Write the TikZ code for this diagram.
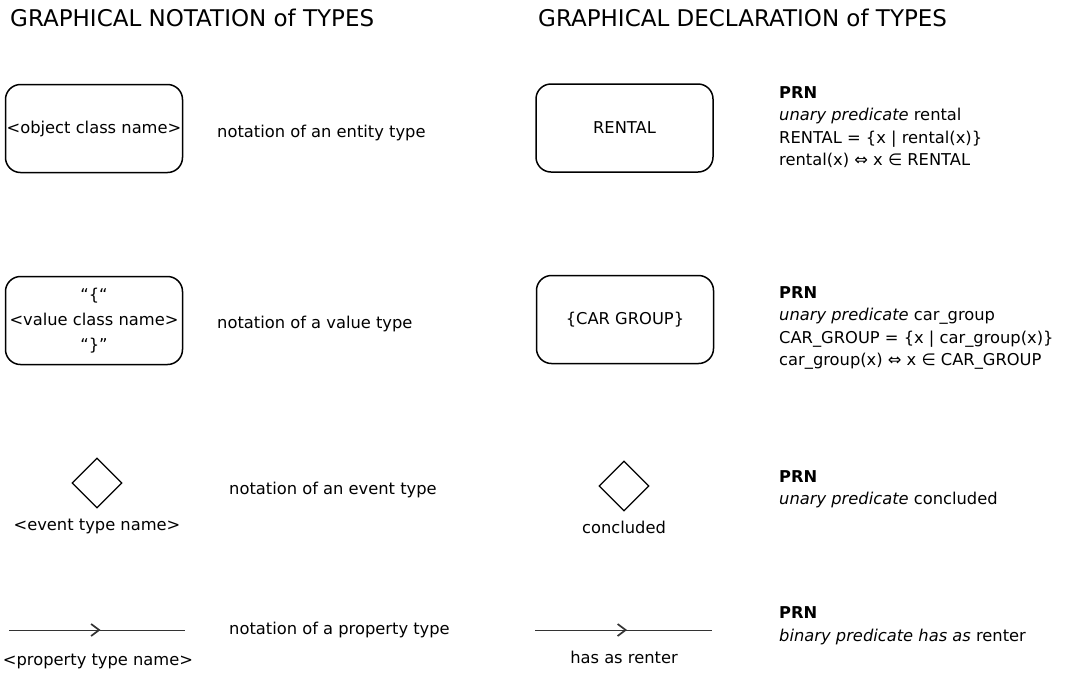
\documentclass[tikz,border=0pt]{standalone}
\usepackage{fontspec}
\setmainfont{DejaVu Sans}
\usetikzlibrary{shapes.geometric,arrows.meta,decorations.markings}
\tikzset{
  typebox/.style={draw=black, line width=1.5pt, rounded corners=15pt, minimum width=177pt, minimum height=88pt, inner sep=0pt, align=center, font=\fontsize{16.3}{25}\selectfont},
  evdiamond/.style={draw=black, line width=1.3pt, diamond, minimum width=50pt, minimum height=50pt, inner sep=0pt},
  body/.style={anchor=base west, inner sep=0pt, font=\fontsize{16.3}{22.5}\selectfont},
  cbody/.style={anchor=base, inner sep=0pt, font=\fontsize{16.3}{22.5}\selectfont},
  ttl/.style={anchor=base west, inner sep=0pt, font=\fontsize{23}{27}\selectfont},
  proparrow/.style={draw=black!80, line width=1pt, postaction={decorate},
    decoration={markings, mark=at position 0.52 with {\arrow{Straight Barb[length=8pt,width=12pt,line width=1.7pt]}}}},
}
\begin{document}
\begin{tikzpicture}[x=1pt,y=-1pt]
\useasboundingbox (0,0) rectangle (1066,673);
% titles
\node[ttl] (t1) at (10,26) {GRAPHICAL NOTATION of TYPES};
\node[ttl] (t2) at (538,26) {GRAPHICAL DECLARATION of TYPES};

% row 1
\node[typebox] (b1) at (94,128.5) {<object class name>};
\node[body] (n1) at (217,137) {notation of an entity type};
\node[typebox] (b2) at (624.5,128) {RENTAL};
\node[body] (p1a) at (779,98) {\textbf{PRN}};
\node[body] (p1b) at (779,120.5) {\textit{unary predicate} rental};
\node[body] (p1c) at (779,143) {RENTAL = \{x | rental(x)\}};
\node[body] (p1d) at (779,165.5) {rental(x) ⇔ x ∈ RENTAL};

% row 2
\node[typebox] (b3) at (94,320.5) {“\{“\\<value class name>\\“\}”};
\node[body] (n2) at (217,328) {notation of a value type};
\node[typebox] (b4) at (625,319.5) {\{CAR GROUP\}};
\node[body] (p2a) at (779,298) {\textbf{PRN}};
\node[body] (p2b) at (779,320.5) {\textit{unary predicate} car\_group};
\node[body] (p2c) at (779,343) {CAR\_GROUP = \{x | car\_group(x)\}};
\node[body] (p2d) at (779,365.5) {car\_group(x) ⇔ x ∈ CAR\_GROUP};

% row 3
\node[evdiamond] (d1) at (97,483) {};
\node[cbody] (d1l) at (97,530) {<event type name>};
\node[body] (n3) at (229,494) {notation of an event type};
\node[evdiamond] (d2) at (624,486) {};
\node[cbody] (d2l) at (624,533) {concluded};
\node[body] (p3a) at (779,482) {\textbf{PRN}};
\node[body] (p3b) at (779,504.5) {\textit{unary predicate} concluded};

% row 4
\coordinate (a1s) at (9,630);
\coordinate (a1e) at (185,630);
\draw[proparrow] (a1s) -- (a1e);
\node[cbody] (a1l) at (98,665) {<property type name>};
\node[body] (n4) at (229,634) {notation of a property type};
\coordinate (a2s) at (535,630);
\coordinate (a2e) at (712,630);
\draw[proparrow] (a2s) -- (a2e);
\node[cbody] (a2l) at (624,663) {has as renter};
\node[body] (p4a) at (779,618) {\textbf{PRN}};
\node[body] (p4b) at (779,641) {\textit{binary predicate has as} renter};
\end{tikzpicture}
\end{document}
